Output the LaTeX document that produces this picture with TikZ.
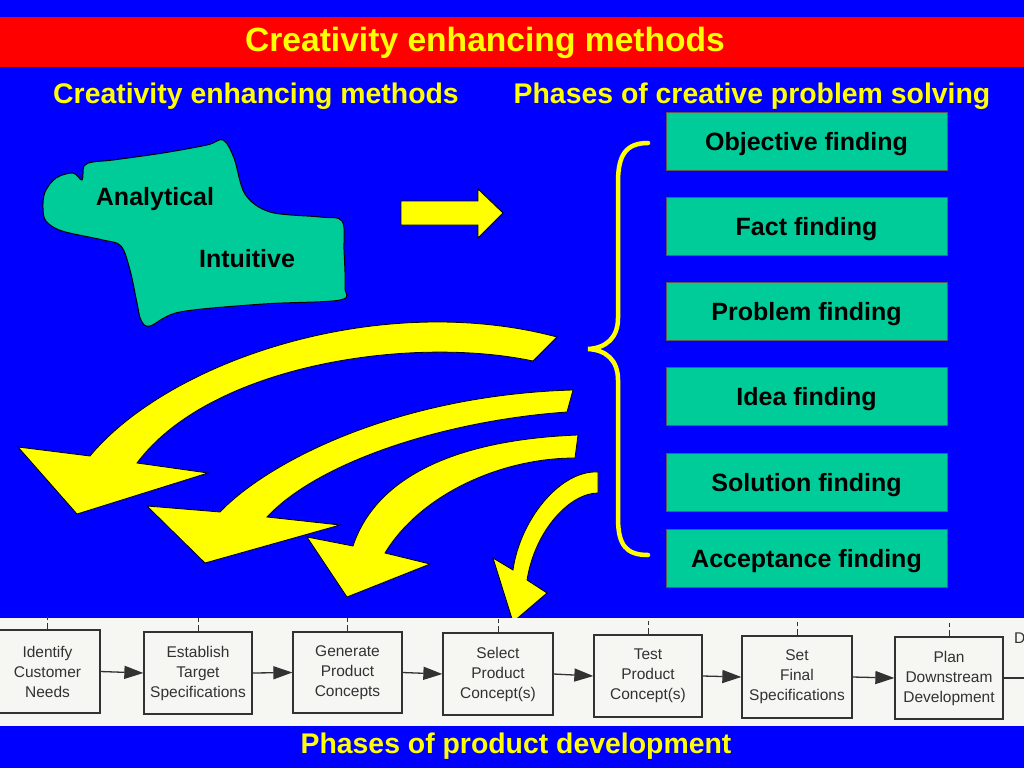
\documentclass[tikz,border=0pt]{standalone}
\usepackage{fontspec}
\setmainfont{Liberation Sans}
\usetikzlibrary{arrows.meta}
\definecolor{bg}{RGB}{0,0,255}
\definecolor{band}{RGB}{255,0,0}
\definecolor{ylw}{RGB}{255,255,0}
\definecolor{grn}{RGB}{0,204,153}
\definecolor{strip}{RGB}{246,246,243}
\definecolor{ink}{RGB}{50,50,50}
\tikzset{
  titletext/.style={text=ylw, font=\fontsize{33.6}{38}\selectfont\bfseries, inner sep=0pt},
  subtext/.style={text=ylw, font=\fontsize{28.4}{32}\selectfont\bfseries, inner sep=0pt},
  phase/.style={draw=black!65, line width=1pt, fill=grn, minimum width=281pt, minimum height=58pt, inner sep=0pt, text height=18pt, text depth=0pt, font=\fontsize{25}{30}\selectfont\bfseries, text=black},
  blobtext/.style={font=\fontsize{25}{30}\selectfont\bfseries, text=black, inner sep=0pt},
  pd/.style={draw=ink, line width=1.3pt, fill=strip, align=center, inner sep=0pt, font=\fontsize{15.5}{20}\selectfont, text=ink},
  pdarrow/.style={draw=ink, line width=1.3pt, -{Triangle[length=19pt,width=13pt]}},
  tickline/.style={draw=ink, line width=1pt, dash pattern=on 6pt off 3pt},
  carrow/.style={fill=ylw, draw=black, line width=0.8pt, line join=miter},
  brace/.style={draw=ylw, line width=4.5pt, line cap=round},
}
\begin{document}
\begin{tikzpicture}[x=1pt,y=-1pt]
\useasboundingbox (0,0) rectangle (1024,768);
\fill[bg] (0,0) rectangle (1024,768);
\fill[band] (0,17) rectangle (1024,67);
\node[titletext] (title) at (485,43) {Creativity enhancing methods};
\node[subtext] (sub1) at (256,96) {Creativity enhancing methods};
\node[subtext] (sub2) at (752,96) {Phases of creative problem solving};

% blob
\draw[fill=grn, draw=black, line width=1pt]
  plot[smooth cycle, tension=0.55] coordinates {
  (93,162) (84,166) (82,180) (73,173) (56,178) (45,192) (43,208) (46,221) (62,231)
  (103,240) (121,246) (130,270) (137,303) (141,320) (150,326) (180,312)
  (263,304) (340,300) (345,287) (344,250) (342,221) (320,217) (270,212)
  (245,194) (234,158) (223,140) (207,145) (163,153) (113,160)};
\node[blobtext] (ana) at (155,199) {Analytical};
\node[blobtext] (intu) at (247,259) {Intuitive};

% straight arrow
\draw[carrow] (401,201) -- (478,201) -- (478,189) -- (503,213) -- (478,238) -- (478,225) -- (401,225) -- cycle;

% brace
\draw[brace] (648,143) .. controls (626,143) and (618,155) .. (618,182) -- (618,318)
  .. controls (618,338) and (606,348) .. (588,349)
  .. controls (606,350) and (618,360) .. (618,380) -- (618,518)
  .. controls (618,545) and (626,555) .. (648,555);

% phase boxes
\node[phase] (f1) at (806.5,141) {Objective finding};
\node[phase] (f2) at (806.5,226) {Fact finding};
\node[phase] (f3) at (806.5,311) {Problem finding};
\node[phase] (f4) at (806.5,396) {Idea finding};
\node[phase] (f5) at (806.5,482) {Solution finding};
\node[phase] (f6) at (806.5,558.5) {Acceptance finding};

% curved arrows
\draw[carrow] (90,456) -- (18,447) -- (77,514) -- (208,473) -- (137,463)
  .. controls (210,365) and (410,335) .. (533,361) -- (557,337)
  .. controls (380,290) and (170,360) .. (90,456) -- cycle;
\draw[carrow] (220,512) -- (147,506) -- (205,563) -- (340,525) -- (267,517)
  .. controls (320,460) and (450,420) .. (567,412) -- (573,390)
  .. controls (400,395) and (270,460) .. (220,512) -- cycle;
\draw[carrow] (353,546) -- (307,537) -- (347,597) -- (430,564) -- (385,553)
  .. controls (420,495) and (500,458) .. (575,458) -- (578,435)
  .. controls (450,440) and (375,480) .. (353,546) -- cycle;
\draw[carrow] (513,570) -- (493,558) -- (513,622) -- (547,593) -- (527,580)
  .. controls (535,530) and (570,493) .. (598,493) -- (598,472)
  .. controls (560,470) and (520,520) .. (513,570) -- cycle;

% product development strip
\fill[strip] (0,618) rectangle (1024,726);
\node[pd, minimum width=105pt, minimum height=83pt] (p1) at (47.5,671.5) {Identify\\Customer\\Needs};
\node[pd, minimum width=108pt, minimum height=82pt] (p2) at (198,673) {Establish\\Target\\Specifications};
\node[pd, minimum width=109pt, minimum height=81pt] (p3) at (347.5,672.5) {Generate\\Product\\Concepts};
\node[pd, minimum width=110pt, minimum height=82pt] (p4) at (498,674) {Select\\Product\\Concept(s)};
\node[pd, minimum width=108pt, minimum height=82pt] (p5) at (648,676) {Test\\Product\\Concept(s)};
\node[pd, minimum width=110pt, minimum height=82pt] (p6) at (797,677) {Set\\Final\\Specifications};
\node[pd, minimum width=108pt, minimum height=82pt] (p7) at (949,678) {Plan\\Downstream\\Development};
\draw[pdarrow] (p1.east) -- (p2.west);
\draw[pdarrow] (p2.east) -- (p3.west);
\draw[pdarrow] (p3.east) -- (p4.west);
\draw[pdarrow] (p4.east) -- (p5.west);
\draw[pdarrow] (p5.east) -- (p6.west);
\draw[pdarrow] (p6.east) -- (p7.west);
\coordinate (pend) at (1026,678);
\draw[draw=ink, line width=1.3pt] (p7.east) -- (pend);
\node[anchor=west, inner sep=0pt, font=\fontsize{15.5}{20}\selectfont, text=ink] (dtxt) at (1014,638) {D};
\foreach \b in {p1,p2,p3,p4,p5,p6,p7} {\draw[tickline] (\b.north) -- ++(0,-13);}

\node[subtext] (bottom) at (516,746) {Phases of product development};
\end{tikzpicture}
\end{document}
